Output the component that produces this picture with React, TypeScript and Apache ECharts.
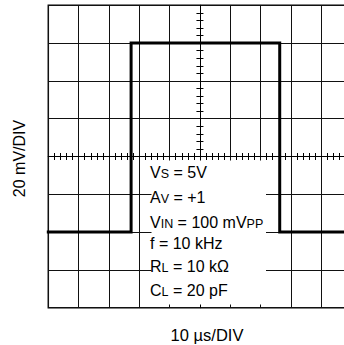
import React, { useEffect, useRef } from 'react';
import * as echarts from 'echarts';

// Time in microseconds (10 µs/DIV), output in millivolts (20 mV/DIV)
const timeUs = [-50, -22.7, -22.7, 26.3, 26.3, 50];
const outputMv = [-40, -40, 60, 60, -40, -40];

const xLabel = '10 µs/DIV';
const yLabel = '20 mV/DIV';

// Test conditions: main text, subscript, rest, trailing subscript
const conditionMain = ['V', 'A', 'V', 'f = 10 kHz', 'R', 'C'];
const conditionSub = ['S', 'V', 'IN', '', 'L', 'L'];
const conditionRest = [' = 5V', ' = +1', ' = 100 mV', '', ' = 10 kΩ', ' = 20 pF'];
const conditionTail = ['', '', 'PP', '', '', ''];

const FONT = "'Liberation Sans', Arial, Helvetica, sans-serif";

export default function App() {
  const ref = useRef<HTMLDivElement>(null);

  useEffect(() => {
    if (!ref.current) return;
    const chart = echarts.init(ref.current, undefined, { renderer: 'svg' });

    const gridLeft = 48.3;
    const gridTop = 5.3;
    const gridWidth = 303.3;
    const gridHeight = 302.4;

    const lineYs = [172, 197.7, 222.8, 243, 266.7, 290.7];

    const rich = {
      m: { fontSize: 16, lineHeight: 16, verticalAlign: 'top', fontFamily: FONT, color: '#000' },
      s: { fontSize: 12.5, lineHeight: 10, verticalAlign: 'bottom', fontFamily: FONT, color: '#000' },
    };

    const conditionTexts = conditionMain.map((m, i) => {
      let str = `{m|${m}}`;
      if (conditionSub[i]) str += `{s|${conditionSub[i]}}`;
      if (conditionRest[i]) str += `{m|${conditionRest[i]}}`;
      if (conditionTail[i]) str += `{s|${conditionTail[i]}}`;
      return {
        type: 'text',
        z: 11,
        silent: true,
        x: 150,
        y: lineYs[i],
        style: {
          text: str,
          rich,
          align: 'left',
          verticalAlign: 'middle',
        },
      };
    });

    const xCommon = {
      type: 'value',
      min: -50,
      max: 50,
      interval: 10,
      axisLabel: { show: false },
      splitLine: { show: false },
      axisTick: { show: false },
    };
    const yCommon = {
      type: 'value',
      min: -80,
      max: 80,
      interval: 20,
      axisLabel: { show: false },
      splitLine: { show: false },
      axisTick: { show: false },
    };
    const minor = {
      show: true,
      splitNumber: 5,
      length: 3.5,
      lineStyle: { color: '#000', width: 1 },
    };

    chart.setOption({
      animation: false,
      backgroundColor: '#fff',
      grid: {
        left: gridLeft,
        top: gridTop,
        width: gridWidth,
        height: gridHeight,
        show: true,
        borderColor: '#000',
        borderWidth: 1.5,
        backgroundColor: 'transparent',
      },
      xAxis: [
        {
          ...xCommon,
          position: 'bottom',
          axisLine: { show: false, onZero: false },
          splitLine: { show: true, lineStyle: { color: '#111', width: 1 } },
        },
        {
          ...xCommon,
          position: 'bottom',
          axisLine: { show: true, onZero: true, onZeroAxisIndex: 0, lineStyle: { color: '#000', width: 1 } },
          minorTick: minor,
        },
        {
          ...xCommon,
          position: 'top',
          axisLine: { show: true, onZero: true, onZeroAxisIndex: 0, lineStyle: { color: '#000', width: 1 } },
          minorTick: minor,
        },
      ],
      yAxis: [
        {
          ...yCommon,
          position: 'left',
          axisLine: { show: false, onZero: false },
          splitLine: { show: true, lineStyle: { color: '#111', width: 1 } },
        },
        {
          ...yCommon,
          position: 'left',
          axisLine: { show: true, onZero: true, onZeroAxisIndex: 0, lineStyle: { color: '#000', width: 1 } },
          minorTick: minor,
        },
        {
          ...yCommon,
          position: 'right',
          axisLine: { show: true, onZero: true, onZeroAxisIndex: 0, lineStyle: { color: '#000', width: 1 } },
          minorTick: minor,
        },
      ],
      series: [
        {
          type: 'line',
          xAxisIndex: 0,
          yAxisIndex: 0,
          data: timeUs.map((t, i) => [t, outputMv[i]]),
          symbol: 'none',
          showSymbol: false,
          z: 5,
          lineStyle: { color: '#000', width: 3, join: 'miter', cap: 'square' },
        },
      ],
      graphic: [
        {
          type: 'rect',
          z: 10,
          silent: true,
          shape: { x: 151.5, y: 160.5, width: 114.5, height: 144 },
          style: { fill: '#fff' },
        },
        ...conditionTexts,
        {
          type: 'text',
          z: 11,
          silent: true,
          x: 207,
          y: 334.5,
          style: {
            text: xLabel,
            fontSize: 16.5,
            fontFamily: FONT,
            fill: '#000',
            align: 'center',
            verticalAlign: 'middle',
          },
        },
        {
          type: 'text',
          z: 11,
          silent: true,
          x: 19.5,
          y: 158.5,
          rotation: Math.PI / 2,
          style: {
            text: yLabel,
            fontSize: 16,
            fontFamily: FONT,
            fill: '#000',
            align: 'center',
            verticalAlign: 'middle',
          },
        },
      ],
    });

    return () => {
      chart.dispose();
    };
  }, []);

  return (
    <div
      style={{
        position: 'absolute',
        left: 0,
        top: 0,
        width: 344,
        height: 345,
        overflow: 'hidden',
        background: '#fff',
      }}
    >
      <div ref={ref} style={{ width: 360, height: 345 }} />
    </div>
  );
}
